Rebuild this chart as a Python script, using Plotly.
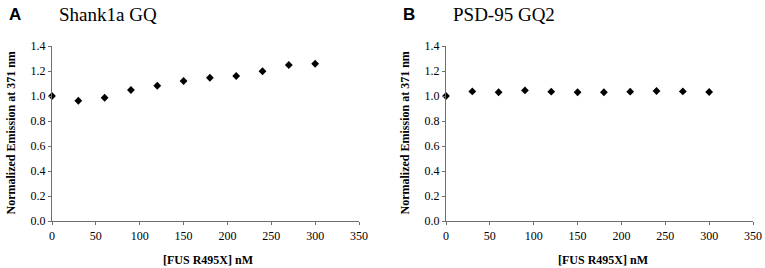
import plotly.graph_objects as go

conc = [0, 30, 60, 90, 120, 150, 180, 210, 240, 270, 300]
shank1a = [1.00, 0.962, 0.986, 1.048, 1.082, 1.12, 1.146, 1.16, 1.198, 1.248, 1.258]
psd95 = [1.00, 1.037, 1.03, 1.045, 1.035, 1.03, 1.03, 1.035, 1.04, 1.037, 1.032]
xticks = [0, 50, 100, 150, 200, 250, 300, 350]
yticks = [0.0, 0.2, 0.4, 0.6, 0.8, 1.0, 1.2, 1.4]

W, H = 765, 268
fig = go.Figure()

panels = [
    ("x", "y", shank1a, [52 / W, 359 / W], "A", "Shank1a GQ"),
    ("x2", "y2", psd95, [446 / W, 753 / W], "B", "PSD-95 GQ2"),
]
ydom = [(H - 221) / H, (H - 46) / H]
serif = "Liberation Serif, Times New Roman, serif"

for i, (xa, ya, vals, xdom, letter, title) in enumerate(panels):
    fig.add_trace(go.Scatter(
        x=conc, y=vals, mode="markers", xaxis=xa, yaxis=ya,
        marker=dict(symbol="diamond", size=6, color="black"),
        showlegend=False, hoverinfo="skip", cliponaxis=False))
    suffix = "" if i == 0 else "2"
    axis_common = dict(showgrid=False, zeroline=False, showline=True,
                       linecolor="#6e6e6e", linewidth=1.3, ticks="outside",
                       ticklen=3, tickcolor="#6e6e6e", tickwidth=1.3, automargin=False,
                       tickfont=dict(family=serif, size=12, color="black"))
    fig.layout["xaxis" + suffix] = dict(
        domain=xdom, range=[0, 350], tickvals=xticks,
        ticktext=[str(t) for t in xticks], anchor="y" + suffix, **axis_common)
    fig.layout["yaxis" + suffix] = dict(
        domain=ydom, range=[0, 1.4], tickvals=yticks,
        ticktext=[f"{t:.1f}" for t in yticks], anchor="x" + suffix, **axis_common)
    x0px = xdom[0] * W
    x1px = xdom[1] * W
    # panel letter
    fig.add_annotation(x=(x0px - 45) / W, y=(H - 15) / H, xref="paper", yref="paper",
                       text="<b>" + letter + "</b>", showarrow=False,
                       xanchor="left", yanchor="middle",
                       font=dict(family="Liberation Sans, Arial, sans-serif", size=17, color="black"))
    # panel title
    fig.add_annotation(x=(x0px + 5) / W, y=(H - 14) / H, xref="paper", yref="paper",
                       text=title, showarrow=False, xanchor="left", yanchor="middle",
                       font=dict(family=serif, size=19, color="black"))
    # y title
    fig.add_annotation(x=(x0px - 42) / W, y=(H - 133.5) / H, xref="paper", yref="paper",
                       text="<b>Normalized Emission at 371 nm</b>", showarrow=False,
                       textangle=-90, xanchor="center", yanchor="middle",
                       font=dict(family=serif, size=12, color="black"))
    # x title
    fig.add_annotation(x=(x0px + x1px) / 2 / W + 3 / W, y=(H - 260) / H, xref="paper", yref="paper",
                       text="<b>[FUS R495X] nM</b>", showarrow=False,
                       xanchor="center", yanchor="middle",
                       font=dict(family=serif, size=12, color="black"))

fig.update_layout(template="none", width=W, height=H, margin=dict(l=0, r=0, t=0, b=0),
                  plot_bgcolor="white", paper_bgcolor="white")
fig.write_html("out.html", config={"displayModeBar": False},
               post_script="document.body.style.margin='0';document.body.style.padding='0';")
